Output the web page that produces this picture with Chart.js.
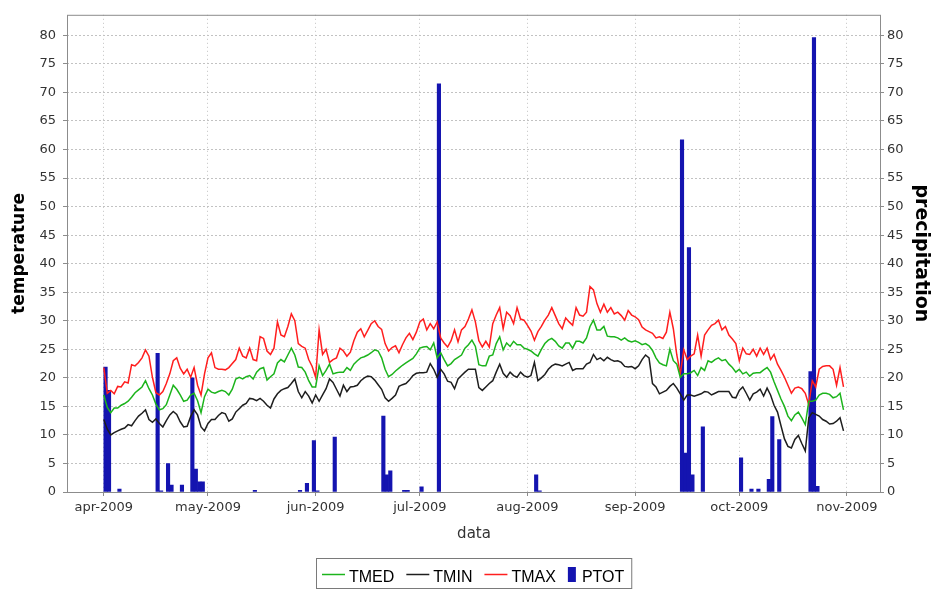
<!DOCTYPE html>
<html>
<head>
<meta charset="utf-8">
<script src="https://cdn.jsdelivr.net/npm/chart.js@4.4.1/dist/chart.umd.min.js"></script>
<style>
  html, body { margin: 0; padding: 0; background: #fff; }
  #wrap { width: 934px; height: 589px; }
</style>
</head>
<body>
<div id="wrap"><canvas id="chart-meteo" width="934" height="589"></canvas></div>
<script>
// Daily station data, 1 Apr 2009 (day 0) to 31 Oct 2009 (day 213)
const TMED = [
  17.0, 14.8, 13.9, 14.7, 14.7, 15.2, 15.5, 15.9, 16.6, 17.4, 17.9, 18.4, 19.5, 18.1, 17.0, 15.4, 14.4, 14.6, 15.3, 17.0,
  18.7, 18.0, 17.0, 15.9, 16.1, 17.0, 17.3, 16.0, 13.9, 16.7, 18.0, 17.5, 17.3, 17.6, 17.8, 17.6, 17.0,
  18.0, 19.8, 20.1, 19.8, 20.2, 20.4, 19.8, 21.0, 21.6, 21.8, 19.6, 20.2, 20.7, 22.6, 23.2, 22.8, 24.0, 25.2, 24.0, 21.9,
  21.8, 21.0, 19.5, 18.4, 18.4, 22.1, 20.4, 21.3, 22.4, 20.7, 20.9, 21.0, 21.0, 21.8, 21.3, 22.4, 23.0,
  23.5, 23.7, 24.0, 24.4, 24.9, 24.7, 23.5, 21.5, 20.2, 20.6, 21.2, 21.7, 22.2, 22.6, 23.0, 23.4, 24.2, 25.2, 25.4, 25.5,
  24.9, 26.1, 23.5, 24.4, 23.2, 22.1, 22.5, 23.2, 23.6, 24.0, 25.2, 25.8, 26.6, 25.5, 22.3, 22.1, 22.1, 23.8,
  24.0, 26.0, 27.2, 24.9, 26.1, 25.5, 26.4, 25.8, 25.8, 25.2, 25.0, 24.7, 24.2, 23.8, 25.0, 26.0, 26.6, 26.9, 26.4, 25.6,
  25.2, 26.1, 26.1, 25.2, 26.4, 26.4, 26.1, 27.0, 29.0, 30.1, 28.4, 28.4, 29.0, 27.3, 27.2, 27.2, 27.0,
  26.6, 27.0, 26.5, 26.3, 26.5, 26.2, 25.8, 26.0, 25.6, 24.8, 23.5, 22.6, 22.3, 22.1, 25.0, 23.0, 22.4, 20.1, 20.7, 20.7,
  20.9, 21.3, 20.4, 21.8, 21.3, 23.0, 22.7, 23.2, 23.5, 23.0, 23.2, 22.4, 21.8, 21.0, 21.5, 20.7, 21.0,
  20.3, 20.8, 20.9, 20.9, 21.4, 21.8, 21.0, 19.3, 17.8, 16.3, 15.0, 13.3, 12.5, 13.5, 14.0, 13.0, 11.8, 15.9, 15.9, 16.1,
  17.0, 17.3, 17.3, 17.1, 16.5, 16.7, 17.3, 14.4,
];
const TMIN = [
  12.7, 11.0, 10.0, 10.4, 10.7, 11.0, 11.2, 11.8, 11.6, 12.5, 13.3, 13.8, 14.4, 12.7, 12.2, 12.8, 12.0, 11.4, 12.5, 13.5,
  14.1, 13.6, 12.3, 11.4, 11.5, 13.2, 14.4, 13.5, 11.4, 10.7, 12.0, 12.7, 12.7, 13.4, 13.9, 13.7, 12.4,
  12.8, 14.0, 14.6, 15.2, 15.5, 16.4, 16.3, 16.0, 16.4, 15.9, 15.2, 14.7, 16.3, 17.2, 17.8, 18.1, 18.3, 19.0, 19.8, 17.6,
  16.5, 17.6, 16.8, 15.6, 17.0, 15.9, 17.0, 18.1, 19.8, 19.2, 18.0, 16.8, 18.7, 17.6, 18.4, 18.5, 18.7,
  19.5, 20.0, 20.3, 20.2, 19.6, 18.8, 18.0, 16.5, 15.9, 16.4, 17.0, 18.5, 18.8, 19.0, 19.6, 20.4, 20.8, 20.9, 20.9, 21.0,
  22.5, 21.5, 20.1, 21.5, 20.7, 19.4, 19.2, 18.1, 19.8, 20.4, 21.0, 21.5, 21.5, 21.5, 18.3, 17.8, 18.4, 19.0,
  19.5, 21.0, 22.4, 20.8, 20.1, 21.0, 20.4, 20.1, 21.0, 20.4, 20.1, 20.4, 22.7, 19.5, 20.0, 20.6, 21.5, 22.1, 22.4, 22.3,
  22.1, 22.4, 22.7, 21.3, 21.6, 21.6, 21.6, 22.4, 22.7, 24.1, 23.2, 23.5, 23.0, 23.6, 23.2, 22.9, 23.0,
  22.7, 22.0, 21.9, 22.0, 21.6, 22.1, 23.2, 24.0, 23.5, 19.0, 18.4, 17.2, 17.5, 17.8, 18.5, 19.0, 18.2, 17.2, 16.1, 17.0,
  17.0, 16.8, 17.0, 17.2, 17.6, 17.5, 17.0, 17.3, 17.6, 17.6, 17.6, 17.6, 16.6, 16.5, 17.8, 18.4, 17.3,
  16.1, 17.2, 17.5, 18.0, 16.8, 18.2, 17.0, 15.2, 14.0, 11.6, 9.3, 8.0, 7.7, 9.2, 9.9, 8.5, 7.2, 13.0, 13.9, 13.6,
  13.3, 12.7, 12.4, 11.9, 12.0, 12.4, 13.0, 10.7,
];
const TMAX = [
  21.8, 17.3, 17.8, 17.2, 18.5, 18.4, 19.3, 19.1, 22.3, 22.1, 22.7, 23.5, 24.9, 23.8, 20.1, 17.4, 17.0, 17.6, 19.0, 20.7,
  23.0, 23.5, 21.7, 20.7, 21.5, 20.1, 21.8, 18.7, 17.0, 20.7, 23.5, 24.4, 21.8, 21.5, 21.5, 21.4, 21.8,
  22.5, 23.2, 25.2, 23.8, 23.5, 25.2, 23.2, 23.0, 27.2, 26.9, 24.7, 24.1, 25.2, 29.8, 27.5, 27.2, 29.0, 31.2, 30.0, 26.0,
  25.5, 25.2, 23.2, 22.0, 20.1, 28.4, 24.1, 25.0, 22.7, 23.2, 23.5, 25.2, 24.7, 23.8, 24.5, 26.5, 28.0, 28.6,
  27.2, 28.3, 29.5, 30.0, 29.0, 28.5, 26.0, 24.7, 25.3, 25.6, 24.4, 25.8, 27.0, 27.8, 26.7, 28.0, 29.8, 30.3, 28.4, 29.5,
  28.6, 29.8, 27.0, 26.1, 25.4, 26.5, 28.4, 26.3, 28.4, 29.0, 30.3, 31.9, 29.8, 26.5, 25.4, 26.4, 25.4, 29.5,
  31.0, 32.3, 28.6, 31.5, 30.9, 29.5, 32.3, 30.3, 30.1, 29.2, 28.2, 26.6, 28.1, 29.0, 30.1, 31.0, 32.3, 30.9, 29.5, 28.6,
  30.5, 29.8, 29.2, 32.3, 31.0, 30.8, 31.5, 36.0, 35.4, 33.0, 31.5, 32.9, 31.5, 32.3, 31.2, 31.5,
  30.9, 30.1, 31.8, 31.0, 30.7, 30.2, 28.9, 28.4, 28.1, 27.8, 27.0, 27.2, 26.9, 28.0, 31.5, 28.6, 24.0, 20.7, 24.9, 23.2,
  23.8, 24.2, 27.5, 23.8, 27.5, 28.4, 29.2, 29.5, 30.1, 28.4, 29.0, 27.5, 26.8, 26.0, 23.0, 25.2, 24.2,
  24.1, 25.0, 23.8, 25.2, 24.1, 25.2, 23.2, 24.1, 22.4, 21.3, 20.1, 18.7, 17.3, 18.2, 18.4, 18.1, 17.3, 15.3, 19.5, 18.4,
  21.5, 22.0, 22.1, 22.1, 21.5, 18.7, 21.8, 18.4,
];

// Rain days (day index) and daily totals in mm
const RAIN_DAYS = [0, 1, 4, 15, 16, 18, 19, 22, 25, 26, 27, 28, 43, 56, 58, 60, 61, 66, 80, 81, 82, 86, 87, 91, 96,
  124, 125, 166, 167, 168, 169, 172, 183, 186, 188, 191, 192, 194, 203, 204, 205];
const RAIN_MM = [21.9, 17.8, 0.5, 24.3, 0.2, 5.0, 1.2, 1.2, 20.0, 4.0, 1.8, 1.8, 0.3, 0.3, 1.5, 9.0, 0.2, 9.6, 13.3, 3.0, 3.7, 0.3, 0.3, 0.9, 71.5,
  3.0, 0.2, 61.7, 6.8, 42.8, 3.0, 11.4, 6.0, 0.5, 0.5, 2.2, 13.2, 9.2, 21.1, 79.6, 1.0];

// Month ticks on the date axis
const MONTH_DAYS = [0, 30, 61, 91, 122, 153, 183, 214];
const MONTH_LABELS = ["apr-2009", "may-2009", "jun-2009", "jul-2009", "aug-2009", "sep-2009", "oct-2009", "nov-2009"];

const COLORS = {
  tmed: "#1cb41c",
  tmin: "#1e1e1e",
  tmax: "#ff1e1e",
  ptot: "#1414b0",
  grid: "#c2c2c2",
  frame: "#8c8c8c",
  text: "#333333",
};
const FONT = "'DejaVu Sans', sans-serif";

const byDay = (vals) => vals.map((v, i) => ({ x: i, y: v }));

// white page + frame round the plot
const frame = {
  id: "frame",
  beforeDraw(chart) {
    const { ctx, width, height } = chart;
    ctx.save();
    ctx.fillStyle = "#fff";
    ctx.fillRect(0, 0, width, height);
    ctx.restore();
  },
  afterDraw(chart) {
    const { ctx, chartArea: a } = chart;
    ctx.save();
    ctx.strokeStyle = COLORS.frame;
    ctx.lineWidth = 1;
    ctx.strokeRect(a.left + 0.5, a.top + 0.5, a.right - a.left - 1, a.bottom - a.top);
    ctx.restore();
  },
};

// boxed legend under the axis title
const legendBox = {
  id: "legendBox",
  afterDraw(chart) {
    const { ctx, chartArea: a } = chart;
    const sets = chart.data.datasets;
    ctx.save();
    ctx.font = "16px 'Liberation Sans', Arial, sans-serif";
    const parts = sets.map((ds) => ({
      ds,
      keyW: ds.type === "bar" ? 8 : 23,
      gap: ds.type === "bar" ? 6 : 4,
      textW: ctx.measureText(ds.label).width,
    }));
    const inner = parts.reduce((s, p) => s + p.keyW + p.gap + p.textW, 0) + 12 * (parts.length - 1);
    const boxW = inner + 13;
    const boxX = Math.round((a.left + a.right) / 2 - boxW / 2);
    const boxY = 558;
    ctx.strokeStyle = "#7a7a7a";
    ctx.lineWidth = 1;
    ctx.strokeRect(boxX + 0.5, boxY + 0.5, boxW, 30);
    let x = boxX + 6;
    const midY = 574;
    parts.forEach((p) => {
      if (p.ds.type === "bar") {
        ctx.fillStyle = p.ds.backgroundColor;
        ctx.fillRect(x, midY - 7, p.keyW, 15);
      } else {
        ctx.strokeStyle = p.ds.borderColor;
        ctx.lineWidth = 1.5;
        ctx.beginPath();
        ctx.moveTo(x, midY + 0.5);
        ctx.lineTo(x + p.keyW, midY + 0.5);
        ctx.stroke();
      }
      x += p.keyW + p.gap;
      ctx.fillStyle = "#000";
      ctx.textBaseline = "alphabetic";
      ctx.fillText(p.ds.label, x, 581.5);
      x += p.textW + 12;
    });
    ctx.restore();
  },
};

const lineSet = (label, vals, color) => ({
  label,
  type: "line",
  data: byDay(vals),
  borderColor: color,
  backgroundColor: color,
  borderWidth: 1.5,
  pointRadius: 0,
  tension: 0,
  yAxisID: "yT",
  order: 0,
});

new Chart(document.getElementById("chart-meteo"), {
  type: "line",
  data: {
    datasets: [
      lineSet("TMED", TMED, COLORS.tmed),
      lineSet("TMIN", TMIN, COLORS.tmin),
      lineSet("TMAX", TMAX, COLORS.tmax),
      {
        label: "PTOT",
        type: "bar",
        data: RAIN_DAYS.map((d, i) => ({ x: d + 0.5, y: RAIN_MM[i] })),
        backgroundColor: COLORS.ptot,
        borderWidth: 0,
        barPercentage: 1,
        categoryPercentage: 1,
        yAxisID: "yP",
        order: 1,
      },
    ],
  },
  options: {
    responsive: false,
    animation: false,
    layout: { padding: { top: 4, bottom: 44, left: 0, right: 0 } },
    plugins: { legend: { display: false }, tooltip: { enabled: false } },
    scales: {
      x: {
        type: "linear",
        min: -10.6,
        max: 223.8,
        offset: false,
        afterBuildTicks: (s) => {
          s.ticks = MONTH_DAYS.map((v) => ({ value: v }));
        },
        afterFit: (s) => {
          s.height = 53;
        },
        ticks: {
          callback: (v, i) => MONTH_LABELS[i],
          font: { family: FONT, size: 13 },
          color: COLORS.text,
          padding: 4,
          maxRotation: 0,
          autoSkip: false,
        },
        grid: { offset: false, color: COLORS.grid, tickLength: 4, tickColor: COLORS.frame },
        border: { display: false, dash: [1, 3] },
        title: {
          display: true,
          text: "data",
          font: { family: FONT, size: 15 },
          color: COLORS.text,
          padding: { top: 0, bottom: 2 },
        },
      },
      yT: {
        position: "left",
        min: 0,
        max: 83.6,
        afterFit: (s) => {
          s.width = 67;
        },
        ticks: {
          stepSize: 5,
          includeBounds: false,
          font: { family: FONT, size: 13 },
          color: COLORS.text,
          padding: 7,
        },
        grid: { color: COLORS.grid, tickLength: 4, tickColor: COLORS.frame },
        border: { display: false, dash: [2, 2] },
        title: {
          display: true,
          text: "temperature",
          font: { family: FONT, size: 17, weight: "bold" },
          color: "#000",
          padding: { top: 9, bottom: 0 },
        },
      },
      yP: {
        position: "right",
        min: 0,
        max: 83.6,
        afterFit: (s) => {
          s.width = 53;
        },
        ticks: {
          stepSize: 5,
          includeBounds: false,
          font: { family: FONT, size: 13 },
          color: COLORS.text,
          padding: 3,
        },
        grid: { drawOnChartArea: false, tickLength: 3, tickColor: COLORS.frame },
        border: { display: false },
        title: {
          display: true,
          text: "precipitation",
          font: { family: FONT, size: 19, weight: "bold" },
          color: "#000",
          padding: { top: 2, bottom: 0 },
        },
      },
    },
  },
  plugins: [frame, legendBox],
});
</script>
</body>
</html>
